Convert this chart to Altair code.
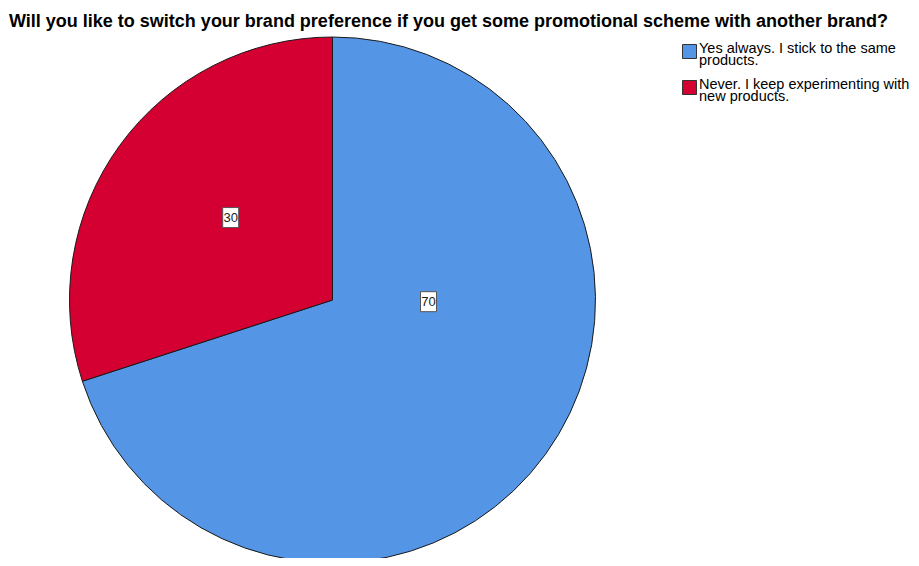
import math
import altair as alt
import pandas as pd

# ---- data ----
TITLE = "Will you like to switch your brand preference if you get some promotional scheme with another brand?"
CATEGORIES = [
    "Yes always. I stick to the same products.",
    "Never. I keep experimenting with new products.",
]
VALUES = [70, 30]
COLORS = ["#5595E5", "#D50032"]

# ---- layout / style constants ----
W, H = 903, 512
PAD_TOP = 30
CX, CY = 324.5, 262.0
R = 263
LABEL_R = [96, 131]          # label distance from centre, per slice
LABEL_SHIFT_DEG = [-35, 3]    # label angle shift from slice middle
FONT = "Liberation Sans"

df = pd.DataFrame({"category": CATEGORIES, "value": VALUES, "idx": list(range(len(CATEGORIES)))})

label_expr = (
    "datum.label == '" + CATEGORIES[0] + "' ? ['Yes always. I stick to the same', 'products.'] : "
    "['Never. I keep experimenting with', 'new products.']"
)

base = alt.Chart(df)

pie = base.mark_arc(outerRadius=R, stroke="#1a1a1a", strokeWidth=1).encode(
    theta=alt.Theta("value:Q", stack=True),
    color=alt.Color(
        "category:N",
        scale=alt.Scale(domain=CATEGORIES, range=COLORS),
        sort=CATEGORIES,
        legend=alt.Legend(
            title=None,
            orient="none",
            legendX=674,
            legendY=6,
            symbolType="square",
            symbolSize=196,
            symbolStrokeColor="#333333",
            symbolStrokeWidth=1,
            symbolOpacity=1,
            labelFont=FONT,
            labelFontSize=14.5,
            labelColor="#000000",
            labelExpr=label_expr,
            labelOffset=2,
            labelLimit=400,
            rowPadding=8,
            padding=0,
        ),
    ),
    order=alt.Order("idx:Q"),
    x=alt.value(CX),
    y=alt.value(CY),
)

cum = (
    base.transform_joinaggregate(total="sum(value)")
    .transform_window(cum="sum(value)", sort=[alt.SortField("idx")], frame=[None, 0])
    .transform_calculate(mid="2*PI*(datum.cum - datum.value/2)/datum.total")
)

layers = [pie]
for i in range(len(CATEGORIES)):
    shift = math.radians(LABEL_SHIFT_DEG[i])
    r = LABEL_R[i]
    sub = (
        cum.transform_filter(f"datum.idx == {i}")
        .transform_calculate(ang=f"datum.mid + ({shift})")
        .transform_calculate(
            lx=f"{CX} + {r}*sin(datum.ang)",
            ly=f"{CY} - {r}*cos(datum.ang)",
        )
        .transform_calculate(
            bx1="datum.lx - 8", bx2="datum.lx + 8",
            by1="datum.ly - 10", by2="datum.ly + 10",
        )
    )
    box = sub.mark_rect(fill="white", stroke="#555555", strokeWidth=1).encode(
        x=alt.X("bx1:Q", scale=None, axis=None),
        x2="bx2:Q",
        y=alt.Y("by1:Q", scale=None, axis=None),
        y2="by2:Q",
    )
    txt = sub.mark_text(font=FONT, fontSize=13, color="#222222", align="center", baseline="middle").encode(
        x=alt.X("lx:Q", scale=None, axis=None),
        y=alt.Y("ly:Q", scale=None, axis=None),
        text=alt.Text("value:Q"),
    )
    layers += [box, txt]

chart = (
    alt.layer(*layers)
    .properties(
        width=W,
        height=H,
        title=alt.Title(
            TITLE,
            anchor="start",
            font=FONT,
            fontSize=18,
            fontWeight="bold",
            color="#000000",
            baseline="alphabetic",
            offset=7,
            dx=1,
            dy=17,
        ),
        autosize=alt.AutoSizeParams(type="none"),
        padding={"left": 0, "top": PAD_TOP, "right": 0, "bottom": 8},
        background="white",
    )
    .configure(style={"guide-label": {"lineHeight": 12.5, "dy": -3}})
    .configure_view(stroke=None)
)

chart.save("out.html", embed_options={"renderer": "svg", "actions": False})
